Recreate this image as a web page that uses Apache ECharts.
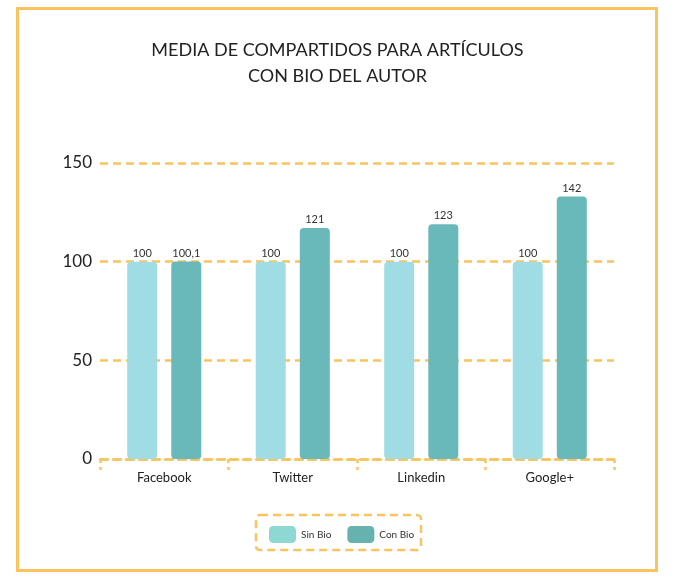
<!DOCTYPE html>
<html>
<head>
<meta charset="utf-8">
<script src="https://cdn.jsdelivr.net/npm/echarts@6/dist/echarts.min.js"></script>
<style>html,body{margin:0;padding:0;background:#fff;}#c{width:675px;height:580px;}</style>
</head>
<body>
<div id="c"></div>
<script>
const categories = ['Facebook', 'Twitter', 'Linkedin', 'Google+'];
const sinBio = [100, 100, 100, 100];
const conBio = [100.1, 117, 119, 133];
const sinBioLabels = ['100', '100', '100', '100'];
const conBioLabels = ['100,1', '121', '123', '142'];
const yTicks = [0, 50, 100, 150];

const orange = '#F9C45E';
const font = 'Lato';
const chart = echarts.init(document.getElementById('c'));
chart.setOption({
  animation: false,
  title: {
    text: 'MEDIA DE COMPARTIDOS PARA ARTÍCULOS\nCON BIO DEL AUTOR',
    left: 'center', top: 32,
    textStyle: { fontFamily: font, fontSize: 18, fontWeight: 'normal', color: '#222', lineHeight: 26 }
  },
  legend: {
    left: 264, top: 521,
    itemWidth: 27, itemHeight: 17, itemGap: 16,
    icon: 'roundRect',
    textStyle: { fontFamily: font, fontSize: 10, color: '#333' },
    data: [
      { name: 'Sin Bio', itemStyle: { color: '#8ED8D4' } },
      { name: 'Con Bio', itemStyle: { color: '#66B2AF' } }
    ]
  },
  grid: { left: 100, right: 61, top: 163, bottom: 121 },
  xAxis: {
    type: 'category',
    data: categories,
    axisLine: { lineStyle: { color: orange, width: 2.5, type: [8, 5] } },
    axisTick: { show: true, length: 11, lineStyle: { color: orange, width: 2.5, type: [4, 4] } },
    axisLabel: { fontFamily: font, fontSize: 13, color: '#222', margin: 12 }
  },
  yAxis: {
    type: 'value', min: yTicks[0], max: yTicks[yTicks.length - 1], interval: 50,
    axisLine: { show: false }, axisTick: { show: false },
    axisLabel: { fontFamily: font, fontSize: 17, color: '#222', margin: 8 },
    splitLine: { lineStyle: { color: orange, width: 2.5, type: [8, 5] } }
  },
  series: [
    {
      name: 'Sin Bio', type: 'bar', data: sinBio, barWidth: 30, barGap: '47%',
      itemStyle: { color: '#A0DCE3', borderRadius: 4 },
      label: { show: true, position: 'top', distance: 3, fontFamily: font, fontSize: 11, color: '#333',
        formatter: p => sinBioLabels[p.dataIndex] }
    },
    {
      name: 'Con Bio', type: 'bar', data: conBio, barWidth: 30,
      itemStyle: { color: '#69B8BA', borderRadius: 4 },
      label: { show: true, position: 'top', distance: 3, fontFamily: font, fontSize: 11, color: '#333',
        formatter: p => conBioLabels[p.dataIndex] }
    }
  ],
  graphic: [
    { type: 'rect', shape: { x: 17.5, y: 8.5, width: 639, height: 562 },
      style: { fill: 'none', stroke: orange, lineWidth: 3 }, silent: true },
    { type: 'rect', shape: { x: 256, y: 515, width: 165, height: 35, r: 4 },
      style: { fill: 'none', stroke: orange, lineWidth: 2.5, lineDash: [8, 5] }, silent: true }
  ]
});
</script>
</body>
</html>
